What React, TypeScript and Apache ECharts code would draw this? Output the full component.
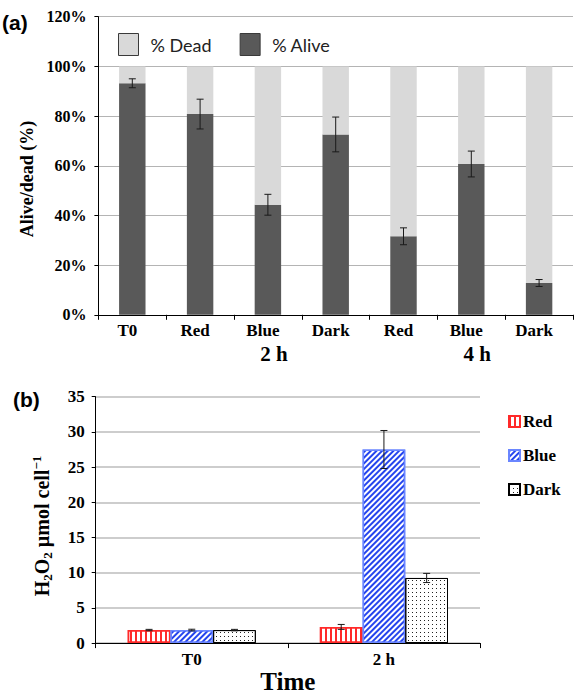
import React, { useEffect, useRef } from 'react';
import * as echarts from 'echarts';

// Panel (a)
const catsA = ['T0', 'Red', 'Blue', 'Dark', 'Red', 'Blue', 'Dark'];
const groupA = ['', '', '2 h', '', '', '4 h', ''];
const alive = [93.2, 80.8, 44.3, 72.6, 31.6, 60.7, 12.8];
const dead = [6.8, 19.2, 55.7, 27.4, 68.4, 39.3, 87.2];
const aliveErr = [1.8, 6.0, 4.2, 7.0, 3.4, 5.2, 1.4];

// Panel (b)
const timesB = ['T0', '2 h'];
const red = [1.85, 2.3];
const redErr = [0.1, 0.35];
const blue = [1.85, 27.5];
const blueErr = [0.12, 2.7];
const dark = [1.85, 9.25];
const darkErr = [0.1, 0.65];

const SERIF = "'Liberation Serif', 'Times New Roman', serif";
const SANS = "'Liberation Sans', Arial, sans-serif";
const GAP_B = 0.333;

function errGroup(x: number, yTop: number, yBot: number, half: number) {
  const st = { stroke: '#1a1a1a', lineWidth: 1 };
  return {
    type: 'group',
    children: [
      { type: 'line', shape: { x1: x, y1: yTop, x2: x, y2: yBot }, style: st },
      { type: 'line', shape: { x1: x - half, y1: yTop, x2: x + half, y2: yTop }, style: st },
      { type: 'line', shape: { x1: x - half, y1: yBot, x2: x + half, y2: yBot }, style: st },
    ],
  };
}

export default function App() {
  const ref = useRef<HTMLDivElement>(null);
  useEffect(() => {
    if (!ref.current) return;
    const chart = echarts.init(ref.current, undefined, { renderer: 'svg' });

    const errA = catsA.map((_, i) => [i, alive[i], aliveErr[i]]);
    const errB: number[][] = [];
    [red, blue, dark].forEach((arr, k) => {
      const errs = [redErr, blueErr, darkErr][k];
      arr.forEach((v, i) => errB.push([i, v, errs[i], k]));
    });

    const option: any = {
      animation: false,
      backgroundColor: '#fff',
      grid: [
        { left: 98.4, top: 16.7, width: 474.6, height: 298.1 },
        { left: 95.7, top: 396.7, width: 384.3, height: 257.3 },
      ],
      legend: [
        {
          data: ['% Dead', '% Alive'],
          left: 113,
          top: 28,
          itemWidth: 20,
          itemHeight: 22,
          itemGap: 28,
          selectedMode: false,
          icon: 'rect',
          itemStyle: { borderColor: '#3a3a3a', borderWidth: 1 },
          textStyle: { fontFamily: 'Lato', fontSize: 18, color: '#222', padding: [0, 0, 0, 7] },
        },
        {
          data: ['Red', 'Blue', 'Dark'],
          orient: 'vertical',
          left: 503,
          top: 408,
          itemWidth: 11,
          itemHeight: 11,
          itemGap: 17,
          selectedMode: false,
          icon: 'rect',
          textStyle: { fontFamily: SERIF, fontWeight: 'bold', fontSize: 17, color: '#000', padding: [0, 0, 0, -2] },
        },
      ],
      xAxis: [
        {
          type: 'category', gridIndex: 0, data: catsA, position: 'bottom',
          axisLine: { lineStyle: { color: '#000', width: 1 } },
          axisTick: { show: true, length: 5, lineStyle: { color: '#000' } },
          axisLabel: { fontFamily: SERIF, fontWeight: 'bold', fontSize: 17, color: '#000', margin: 7, padding: [0, 10, 0, 0] },
        },
        {
          type: 'category', gridIndex: 0, data: groupA, position: 'bottom',
          axisLine: { show: false }, axisTick: { show: false },
          axisLabel: { fontFamily: SERIF, fontWeight: 'bold', fontSize: 21, color: '#000', margin: 29, padding: [0, 0, 0, 12] },
        },
        {
          type: 'category', gridIndex: 1, data: timesB,
          axisLine: { lineStyle: { color: '#000', width: 1 } },
          axisTick: { show: true, length: 5, lineStyle: { color: '#000' } },
          axisLabel: { fontFamily: SERIF, fontWeight: 'bold', fontSize: 17, color: '#000', margin: 8 },
          name: 'Time', nameLocation: 'middle', nameGap: 18,
          nameTextStyle: { fontFamily: SERIF, fontWeight: 'bold', fontSize: 25, color: '#000' },
        },
      ],
      yAxis: [
        {
          type: 'value', gridIndex: 0, min: 0, max: 120, interval: 20,
          axisLine: { show: true, lineStyle: { color: '#000' } },
          axisTick: { show: true, length: 4, lineStyle: { color: '#000' } },
          splitLine: { lineStyle: { color: '#b4b4b4', width: 1 } },
          axisLabel: { formatter: '{value}%', fontFamily: SERIF, fontWeight: 'bold', fontSize: 16, color: '#000', margin: 12 },
        },
        {
          type: 'value', gridIndex: 1, min: 0, max: 35, interval: 5,
          axisLine: { show: true, lineStyle: { color: '#000' } },
          axisTick: { show: true, length: 4, lineStyle: { color: '#000' } },
          splitLine: { lineStyle: { color: '#bdbdbd', width: 1.6 } },
          axisLabel: { fontFamily: SERIF, fontWeight: 'bold', fontSize: 17, color: '#000', margin: 11 },
        },
      ],
      graphic: [
        { type: 'text', left: 2, top: 12, style: { text: '(a)', font: `bold 21px ${SANS}`, fill: '#000' } },
        { type: 'text', left: 13, top: 389, style: { text: '(b)', font: `bold 21px ${SANS}`, fill: '#000' } },
        {
          type: 'text', x: 26.5, y: 179, rotation: Math.PI / 2,
          style: { text: 'Alive/dead (%)', font: `bold 18px ${SERIF}`, fill: '#000', align: 'center', verticalAlign: 'middle' },
        },
        {
          type: 'text', x: 42, y: 526, rotation: Math.PI / 2,
          style: {
            text: '{m|H}{s|2}{m|O}{s|2}{m| µmol cell}{p|−1}',
            align: 'center', verticalAlign: 'middle',
            rich: {
              m: { fontFamily: SERIF, fontWeight: 'bold', fontSize: 20, lineHeight: 24, fill: '#000', verticalAlign: 'middle' },
              s: { fontFamily: SERIF, fontWeight: 'bold', fontSize: 13, lineHeight: 13, fill: '#000', verticalAlign: 'bottom' },
              p: { fontFamily: SERIF, fontWeight: 'bold', fontSize: 13, lineHeight: 13, fill: '#000', verticalAlign: 'top' },
            },
          },
        },
      ],
      series: [
        {
          name: '% Alive', type: 'bar', xAxisIndex: 0, yAxisIndex: 0, stack: 'a', barWidth: '39%',
          itemStyle: { color: '#595959' }, data: alive,
        },
        {
          name: '% Dead', type: 'bar', xAxisIndex: 0, yAxisIndex: 0, stack: 'a', barWidth: '39%',
          itemStyle: { color: '#d9d9d9' }, data: dead,
        },
        {
          name: 'errA', type: 'custom', xAxisIndex: 0, yAxisIndex: 0, z: 10,
          encode: { x: 0, y: 1 }, data: errA,
          renderItem: (params: any, api: any) => {
            const ci = api.value(0), v = api.value(1), e = api.value(2);
            const x = api.coord([ci, v])[0];
            const yT = api.coord([ci, v + e])[1];
            const yB = api.coord([ci, v - e])[1];
            return errGroup(x, yT, yB, 3.5);
          },
        },
        {
          name: 'Red', type: 'bar', xAxisIndex: 2, yAxisIndex: 1, barGap: '0%', barCategoryGap: '33.3%',
          itemStyle: {
            color: '#ffffff', borderColor: '#ff2a2a', borderWidth: 1.5,
            decal: { symbol: 'rect', symbolSize: 1, color: '#ff2a2a', backgroundColor: '#ffffff', dashArrayX: [2, 3], dashArrayY: [4, 0], rotation: 0 },
          },
          data: red,
        },
        {
          name: 'Blue', type: 'bar', xAxisIndex: 2, yAxisIndex: 1, barGap: '0%', barCategoryGap: '33.3%',
          itemStyle: {
            color: '#ffffff', borderColor: '#6a86ff', borderWidth: 1.5,
            decal: { symbol: 'rect', symbolSize: 1, color: '#2444ee', backgroundColor: '#ffffff', dashArrayX: [4, 0], dashArrayY: [2, 2], rotation: -Math.PI / 4 },
          },
          data: blue,
        },
        {
          name: 'Dark', type: 'bar', xAxisIndex: 2, yAxisIndex: 1, barGap: '0%', barCategoryGap: '33.3%',
          itemStyle: {
            color: '#ffffff', borderColor: '#000', borderWidth: 1,
            decal: { symbol: 'rect', symbolSize: 1, color: '#222', backgroundColor: '#ffffff', dashArrayX: [1, 3], dashArrayY: [1, 3], rotation: 0 },
          },
          data: dark,
        },
        {
          name: 'errB', type: 'custom', xAxisIndex: 2, yAxisIndex: 1, z: 10,
          encode: { x: 0, y: 1 }, data: errB,
          renderItem: (params: any, api: any) => {
            const ci = api.value(0), v = api.value(1), e = api.value(2), k = api.value(3);
            const catW = api.size([1, 0])[0];
            const bw = (catW * (1 - GAP_B)) / 3;
            const x = api.coord([ci, v])[0] + (k - 1) * bw;
            const yT = api.coord([ci, v + e])[1];
            const yB = api.coord([ci, v - e])[1];
            return errGroup(x, yT, yB, 3.5);
          },
        },
      ],
    };
    chart.setOption(option);
    return () => chart.dispose();
  }, []);
  return <div ref={ref} style={{ position: 'fixed', left: 0, top: 0, width: 575, height: 695 }} />;
}
